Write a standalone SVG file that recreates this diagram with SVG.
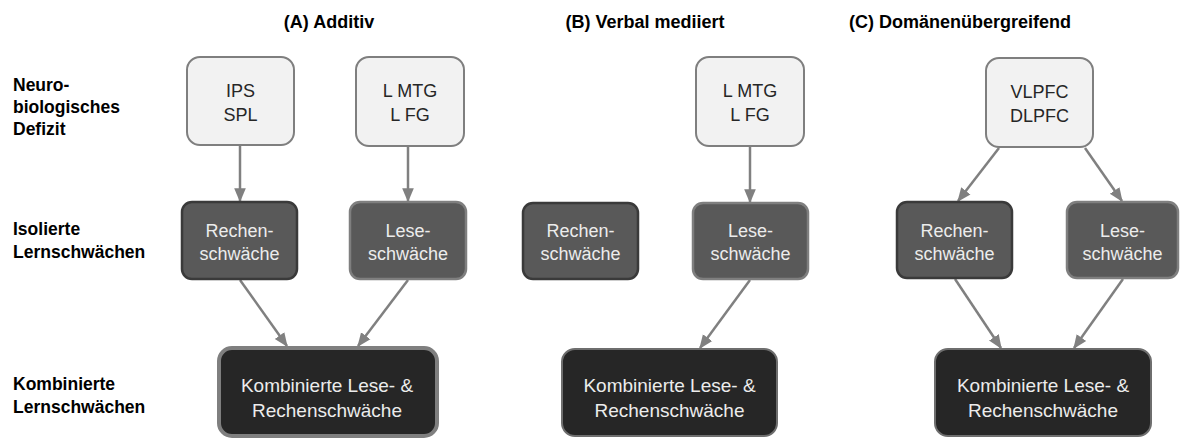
<svg xmlns="http://www.w3.org/2000/svg" width="1180" height="439" viewBox="0 0 1180 439">
<style>
.hd{font-family:"Liberation Sans",Arial,sans-serif;font-weight:bold;font-size:18px;fill:#000;text-anchor:middle}
.lb{font-family:"Liberation Sans",Arial,sans-serif;font-weight:bold;font-size:17.5px;fill:#000}
.tx{font-family:"Liberation Sans",Arial,sans-serif;font-size:18px;text-anchor:middle}
.cx{font-family:"Liberation Sans",Arial,sans-serif;font-size:19px;text-anchor:middle}
.top rect{fill:#f2f2f2;stroke:#7f7f7f;stroke-width:2}
.top text{fill:#262626}
.rech rect{fill:#595959;stroke:#3a3a3a;stroke-width:2.5}
.lese rect{fill:#595959;stroke:#7f7f7f;stroke-width:2.5}
.comb rect{fill:#262626;stroke:#6e6e6e;stroke-width:2}
.combA rect{fill:#262626;stroke:#7f7f7f;stroke-width:4}
.dark text{fill:#ececec}
.con line{stroke:#808080;stroke-width:2.5;marker-end:url(#ah)}
</style>
<defs>
<marker id="ah" markerUnits="userSpaceOnUse" markerWidth="14" markerHeight="14" viewBox="0 0 12 12" refX="11" refY="6" orient="auto">
<path d="M0,1 L12,6 L0,11 Z" fill="#808080"/>
</marker>
</defs>
<rect width="1180" height="439" fill="#fff"/>

<g id="headings">
<text class="hd" x="329" y="28">(A) Additiv</text>
<text class="hd" x="645" y="28">(B) Verbal mediiert</text>
<text class="hd" x="960" y="28">(C) Domänenübergreifend</text>
</g>

<g id="rowlabels">
<text class="lb" x="13" y="91">Neuro-</text>
<text class="lb" x="13" y="113">biologisches</text>
<text class="lb" x="13" y="135">Defizit</text>
<text class="lb" x="13" y="235">Isolierte</text>
<text class="lb" x="13" y="258">Lernschwächen</text>
<text class="lb" x="13" y="390">Kombinierte</text>
<text class="lb" x="13" y="413">Lernschwächen</text>
</g>

<g id="con" class="con">
<line x1="240" y1="146" x2="240" y2="201"/>
<line x1="408" y1="147" x2="408" y2="201"/>
<line x1="240" y1="280" x2="287" y2="346"/>
<line x1="408" y1="280" x2="358" y2="346"/>
<line x1="750" y1="147" x2="750" y2="202"/>
<line x1="750" y1="280" x2="700" y2="348"/>
<line x1="999" y1="148" x2="958" y2="201"/>
<line x1="1085" y1="148" x2="1122" y2="201"/>
<line x1="955" y1="279" x2="1001" y2="348"/>
<line x1="1123" y1="279" x2="1074" y2="348"/>
</g>

<g id="A_ips" class="top"><rect x="187" y="57" width="107" height="88" rx="13"/><text class="tx" x="240.5" y="97">IPS</text><text class="tx" x="240.5" y="121">SPL</text></g>
<g id="A_lmtg" class="top"><rect x="356" y="57" width="108" height="89" rx="13"/><text class="tx" x="410" y="97">L MTG</text><text class="tx" x="410" y="121">L FG</text></g>
<g id="A_rechen" class="rech dark"><rect x="182" y="202" width="115" height="77" rx="10"/><text class="tx" x="239.5" y="237">Rechen-</text><text class="tx" x="239.5" y="260">schwäche</text></g>
<g id="A_lese" class="lese dark"><rect x="350" y="202" width="116" height="77" rx="10"/><text class="tx" x="408" y="237">Lese-</text><text class="tx" x="408" y="260">schwäche</text></g>
<g id="A_comb" class="combA dark"><rect x="219" y="348" width="218" height="88" rx="13"/><text class="cx" x="327" y="392">Kombinierte Lese- &amp;</text><text class="cx" x="327" y="417">Rechenschwäche</text></g>

<g id="B_lmtg" class="top"><rect x="696" y="57" width="108" height="89" rx="13"/><text class="tx" x="750" y="97">L MTG</text><text class="tx" x="750" y="121">L FG</text></g>
<g id="B_rechen" class="rech dark"><rect x="523" y="203" width="115" height="76" rx="10"/><text class="tx" x="580.5" y="237">Rechen-</text><text class="tx" x="580.5" y="260">schwäche</text></g>
<g id="B_lese" class="lese dark"><rect x="693" y="203" width="115" height="76" rx="10"/><text class="tx" x="750.5" y="237">Lese-</text><text class="tx" x="750.5" y="260">schwäche</text></g>
<g id="B_comb" class="comb dark"><rect x="562" y="349" width="215" height="87" rx="13"/><text class="cx" x="669.5" y="392">Kombinierte Lese- &amp;</text><text class="cx" x="669.5" y="417">Rechenschwäche</text></g>

<g id="C_pfc" class="top"><rect x="986" y="58" width="107" height="89" rx="13"/><text class="tx" x="1039.5" y="98">VLPFC</text><text class="tx" x="1039.5" y="122">DLPFC</text></g>
<g id="C_rechen" class="rech dark"><rect x="897" y="202" width="115" height="76" rx="10"/><text class="tx" x="954.5" y="237">Rechen-</text><text class="tx" x="954.5" y="260">schwäche</text></g>
<g id="C_lese" class="lese dark"><rect x="1067" y="202" width="111" height="76" rx="10"/><text class="tx" x="1122.5" y="237">Lese-</text><text class="tx" x="1122.5" y="260">schwäche</text></g>
<g id="C_comb" class="comb dark"><rect x="935" y="349" width="216" height="87" rx="13"/><text class="cx" x="1043" y="392">Kombinierte Lese- &amp;</text><text class="cx" x="1043" y="417">Rechenschwäche</text></g>
</svg>
